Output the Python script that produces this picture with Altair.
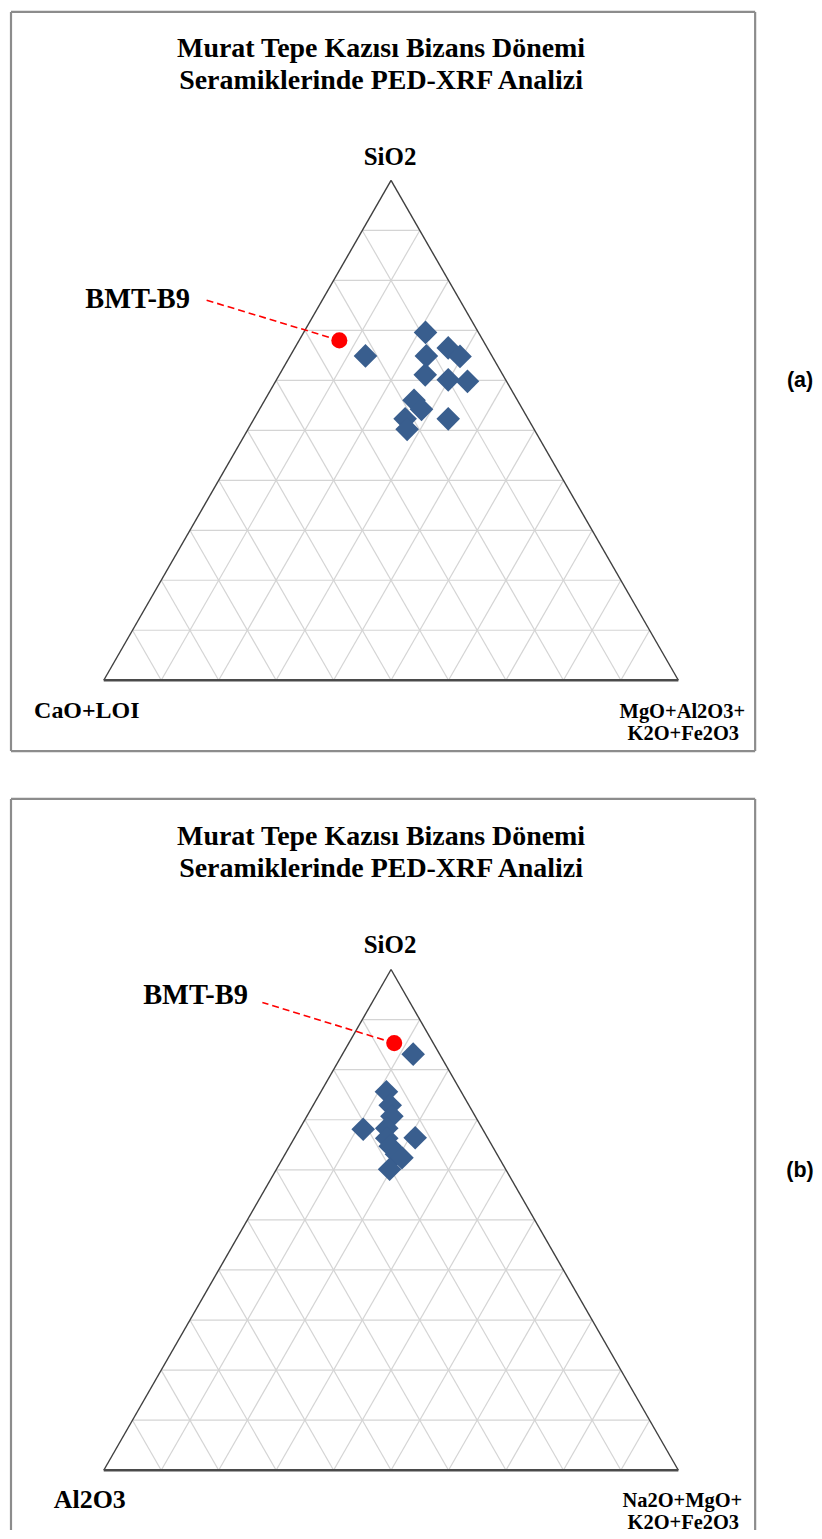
import altair as alt
import pandas as pd

# ---------------- data (weight %) ----------------
# Panel (a): SiO2 / CaO+LOI / MgO+Al2O3+K2O+Fe2O3
a_sio2 = [64.9, 69.6, 64.9, 66.5, 64.8, 61.1, 60.1, 59.8, 56.0, 54.2, 52.3, 52.3, 50.2]
a_cao_loi = [22.0, 9.2, 11.4, 6.8, 5.6, 13.5, 10.0, 6.8, 18.0, 17.6, 21.4, 13.9, 22.1]
a_mgo_al2o3_k2o_fe2o3 = [13.1, 21.2, 23.7, 26.7, 29.6, 25.4, 29.9, 33.4, 26.0, 28.2, 26.3, 33.8, 27.7]
a_bmt_b9 = [68.0, 25.0, 7.0]

# Panel (b): SiO2 / Al2O3 / Na2O+MgO+K2O+Fe2O3
b_sio2 = [83.1, 75.6, 72.9, 70.7, 68.1, 66.4, 68.3, 66.3, 64.7, 63.1, 60.1, 62.4]
b_al2o3 = [4.6, 13.0, 13.7, 14.5, 20.8, 12.6, 16.6, 17.6, 17.8, 17.5, 20.2, 16.9]
b_na2o_mgo_k2o_fe2o3 = [12.3, 11.4, 13.4, 14.8, 11.1, 21.0, 15.1, 16.1, 17.5, 19.4, 19.7, 20.7]
b_bmt_b9 = [85.3, 6.8, 7.9]

title_lines = ["Murat  Tepe Kazısı Bizans Dönemi", "Seramiklerinde  PED-XRF Analizi"]
apex_label = "SiO2"
a_left_label = "CaO+LOI"
a_right_label = ["MgO+Al2O3+", "K2O+Fe2O3"]
b_left_label = "Al2O3"
b_right_label = ["Na2O+MgO+", "K2O+Fe2O3"]
sample_label = "BMT-B9"
grid_ticks = [10, 20, 30, 40, 50, 60, 70, 80, 90]

# ---------------- helpers ----------------
W = 746
XR = [93, 669]
SERIF = "Liberation Serif"


def to_xy(top, left, right):
    df = pd.DataFrame({"top": top, "left": left, "right": right})
    tot = df["top"] + df["left"] + df["right"]
    df["x"] = (df["right"] + df["top"] / 2) / tot
    df["y"] = df["top"] / tot
    return df


def grid_df():
    rows = []
    for g in grid_ticks:
        t = g / 100
        rows.append((t / 2, t, 1 - t / 2, t))
        rows.append((t, 0, t + (1 - t) / 2, 1 - t))
        rows.append((1 - t, 0, (1 - t) / 2, 1 - t))
    return pd.DataFrame(rows, columns=["x", "y", "x2", "y2"])


sides = pd.DataFrame({"x": [0, 1], "y": [0, 0], "x2": [0.5, 0.5], "y2": [1, 1]})
base = pd.DataFrame({"x": [0], "y": [0], "x2": [1], "y2": [0]})


def txt(s, x, y, size, font=SERIF, weight="bold", align="center"):
    return alt.Chart(pd.DataFrame({"t": [s]})).mark_text(
        font=font, fontSize=size, fontWeight=weight, align=align,
        baseline="middle", color="black"
    ).encode(text="t:N", x=alt.value(x), y=alt.value(y))


def box(h, bottom):
    c = "#8c8c8c"
    d = pd.DataFrame({"a": [0]})
    layers = [
        alt.Chart(d).mark_rule(color=c, strokeWidth=2.2).encode(
            x=alt.value(0), x2=alt.value(W), y=alt.value(0)),
        alt.Chart(d).mark_rule(color=c, strokeWidth=2.2).encode(
            x=alt.value(0), y=alt.value(0), y2=alt.value(h)),
        alt.Chart(d).mark_rule(color=c, strokeWidth=2.2).encode(
            x=alt.value(W), y=alt.value(0), y2=alt.value(h)),
    ]
    if bottom:
        layers.append(alt.Chart(d).mark_rule(color=c, strokeWidth=2.2).encode(
            x=alt.value(0), x2=alt.value(W), y=alt.value(h)))
    return layers


def panel(top, left, right, b9, yr, h, bottom, left_lab, left_x, left_size, right_lab,
          title_y, apex_y, corner_y, lab_xy, lead_xy, tag, tag_y):
    xs = alt.Scale(domain=[0, 1], range=XR)
    ys = alt.Scale(domain=[0, 1], range=yr)

    def enc(ch):
        return ch.encode(
            x=alt.X("x:Q", scale=xs, axis=None),
            y=alt.Y("y:Q", scale=ys, axis=None),
            x2="x2:Q", y2="y2:Q")

    pts = to_xy(top, left, right)
    red = to_xy([b9[0]], [b9[1]], [b9[2]])

    grid = enc(alt.Chart(grid_df()).mark_rule(color="#d4d4d4", strokeWidth=1.2))
    side = enc(alt.Chart(sides).mark_rule(color="#3f3f3f", strokeWidth=1.4))
    bas = enc(alt.Chart(base).mark_rule(color="#4a4a4a", strokeWidth=2.6))
    lead = alt.Chart(red).mark_rule(color="#ff0000", strokeWidth=1.6, strokeDash=[7, 4]).encode(
        x=alt.X("x:Q", scale=xs, axis=None),
        y=alt.Y("y:Q", scale=ys, axis=None),
        x2=alt.value(lead_xy[0]), y2=alt.value(lead_xy[1]))
    dia = alt.Chart(pts).mark_point(shape="diamond", filled=True, size=560,
                                    opacity=1, color="#395e8e").encode(
        x=alt.X("x:Q", scale=xs, axis=None), y=alt.Y("y:Q", scale=ys, axis=None))
    dot = alt.Chart(red).mark_point(shape="circle", filled=True, size=260,
                                    opacity=1, color="#ff0000").encode(
        x=alt.X("x:Q", scale=xs, axis=None), y=alt.Y("y:Q", scale=ys, axis=None))

    texts = [
        txt(title_lines[0], 371, title_y, 28),
        txt(title_lines[1], 371, title_y + 32, 28),
        txt(apex_label, 380, apex_y, 25),
        txt(left_lab, left_x, corner_y, left_size),
        txt(right_lab[0], 673, corner_y + 1, 20.5),
        txt(right_lab[1], 674, corner_y + 23, 20.5),
        txt(sample_label, lab_xy[0], lab_xy[1], 28.5),
        txt(tag, 791, tag_y, 21.5, font="Liberation Sans"),
    ]
    return alt.layer(*box(h, bottom), grid, side, bas, lead, dia, dot, *texts).properties(
        width=W, height=h)


p1 = panel(a_sio2, a_cao_loi, a_mgo_al2o3_k2o_fe2o3, a_bmt_b9, [670, 169], 741, True,
           a_left_label, 76, 24, a_right_label, 37, 145, 701, (127, 288), (196, 289), "(a)", 370)
p2 = panel(b_sio2, b_al2o3, b_na2o_mgo_k2o_fe2o3, b_bmt_b9, [673, 171], 733, False,
           b_left_label, 79, 26, b_right_label, 38, 146, 703, (185, 197), (252, 204), "(b)", 373)

chart = alt.vconcat(p1, p2, spacing=48, bounds="flush").properties(
    padding={"left": 1, "top": 0, "right": 0, "bottom": 0}
).configure_view(strokeWidth=0)

chart.save("out.html", embed_options={"renderer": "svg", "actions": False})
